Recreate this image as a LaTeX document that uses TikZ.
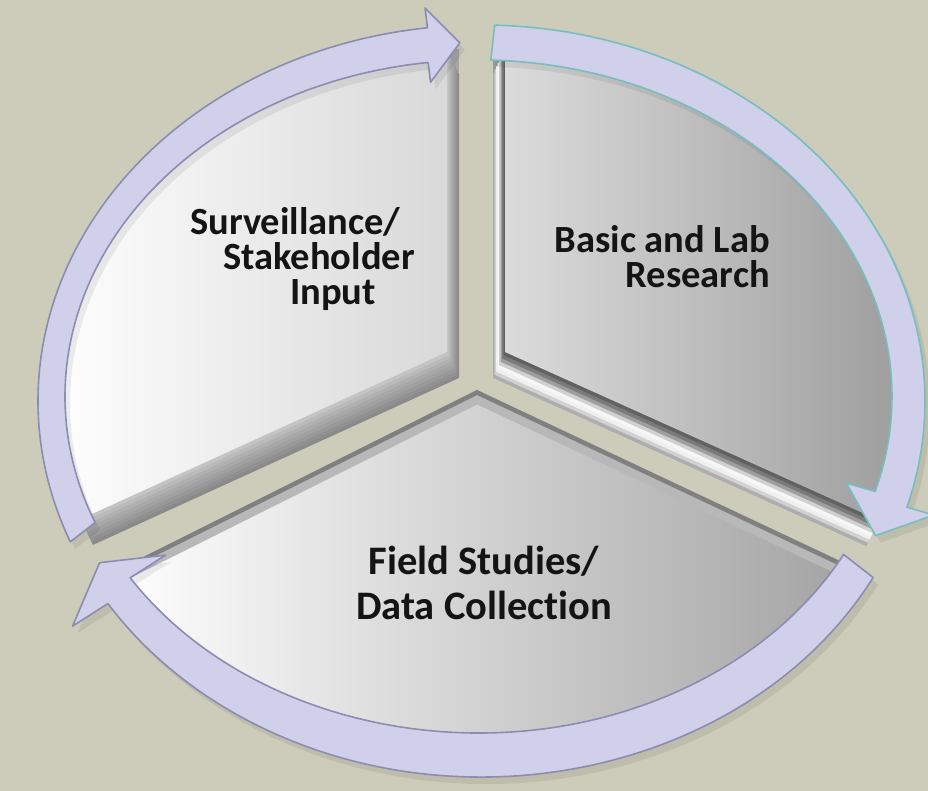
\documentclass[tikz,border=0pt]{standalone}
\usepackage{fontspec}
\setmainfont{Carlito}[Ligatures={NoCommon}]
\usetikzlibrary{calc}
\definecolor{bg}{RGB}{205,204,186}
\definecolor{lav}{RGB}{208,208,234}
\definecolor{lavedge}{RGB}{140,140,178}
\definecolor{tealedge}{RGB}{120,190,190}
\definecolor{txt}{RGB}{20,20,20}

% arrows (band ellipses: outer c=(481.5,390) 443.5x376, inner c=(478.5,394.5) 413.5x336.5, mid c=(480,392.25) 428.5x356.25)
\newcommand\arrowL[1]{\path[#1]
 ([shift={(481.5,390)}]202:443.5pt and 376pt)
 arc[start angle=202,end angle=97,x radius=443.5pt,y radius=376pt]
 -- ([shift={(481.5,390)}]97:463.5pt and 396pt)
 -- ([shift={(480,392.25)}]92.7:428.5pt and 356.25pt)
 -- ([shift={(478.5,394.5)}]97:393.5pt and 316.5pt)
 -- ([shift={(478.5,394.5)}]97:413.5pt and 336.5pt)
 arc[start angle=97,end angle=202,x radius=413.5pt,y radius=336.5pt]
 -- cycle;}
\newcommand\arrowR[1]{\path[#1]
 ([shift={(481.5,390)}]88.3:443.5pt and 376pt)
 arc[start angle=88.3,end angle=-16.4,x radius=443.5pt,y radius=376pt]
 -- ([shift={(481.5,390)}]-16.4:471.5pt and 404pt)
 -- ([shift={(480,392.25)}]-22.6:428.5pt and 356.25pt)
 -- ([shift={(478.5,394.5)}]-16.4:383.5pt and 306.5pt)
 -- ([shift={(478.5,394.5)}]-16.4:413.5pt and 336.5pt)
 arc[start angle=-16.4,end angle=88.3,x radius=413.5pt,y radius=336.5pt]
 -- cycle;}
\newcommand\arrowB[1]{\path[#1]
 ([shift={(481.5,390)}]-28:443.5pt and 376pt)
 arc[start angle=-28,end angle=-147.4,x radius=443.5pt,y radius=376pt]
 -- ([shift={(481.5,390)}]-147.4:485.5pt and 418pt)
 -- ([shift={(480,392.25)}]-152.6:428.5pt and 356.25pt)
 -- ([shift={(478.5,394.5)}]-147.4:371.5pt and 294.5pt)
 -- ([shift={(478.5,394.5)}]-147.4:413.5pt and 336.5pt)
 arc[start angle=-147.4,end angle=-28,x radius=413.5pt,y radius=336.5pt]
 -- cycle;}
% sectors (outer ellipse c=(480,393) 425x352)
\newcommand\sectL[1]{\path[#1] (447,439) -- ([shift={(480,393)}]94.45:425pt and 352pt)
 arc[start angle=94.45,end angle=200.1,x radius=425pt,y radius=352pt] -- cycle;}
\newcommand\sectR[1]{\path[#1] (505,439) -- ([shift={(480,393)}]-20.3:425pt and 352pt)
 arc[start angle=-20.3,end angle=86.6,x radius=425pt,y radius=352pt] -- cycle;}
\newcommand\sectB[1]{\path[#1] (477,401) -- ([shift={(480,393)}]209.8:425pt and 352pt)
 arc[start angle=209.8,end angle=331.3,x radius=425pt,y radius=352pt] -- cycle;}

\tikzset{
  band/.style={fill=lav, draw=lavedge, line width=1.6pt, line join=round},
  bandshadow/.style={fill=black, opacity=0.07},
  lbl/.style={font=\bfseries\fontsize{38.5}{35}\selectfont, text=txt, inner sep=0pt},
  lblb/.style={font=\bfseries\fontsize{40.5}{45}\selectfont, text=txt, inner sep=0pt}
}

\begin{document}
\begin{tikzpicture}[x=1pt,y=1pt]
\useasboundingbox (0,0) rectangle (928,791);
\fill[bg] (0,0) rectangle (928,791);

% ---- sector sides (slab thickness)
\fill[black!35] (447,420) rectangle (459,742);
\fill[black!40] (493,420) rectangle (505,742);
\foreach \i/\c in {8/46,7/43,6/40,5/37,4/34,3/31,2/27,1/23}{
  \sectL{fill=black!\c, shift={({12*\i/8},{-26*\i/8})}}}
\foreach \i/\c in {8/32,7/18,6/6,5/3,4/18,3/38,2/52,1/62}{
  \sectR{fill=black!\c, shift={({-12*\i/8},{-26*\i/8})}}}
\sectB{fill=black!35, shift={(0,-18)}}

% ---- sector faces
\sectL{left color=white, middle color=white, right color=black!15}
\sectR{left color=black!14, right color=black!40}
\sectB{left color=white, right color=black!36}
% bevel on the upper edges of the bottom sector
\begin{scope}
  \sectB{clip}
  \draw[black!28, line width=26pt, line join=miter]
    ([shift={(480,393)}]209.8:425pt and 352pt) -- (477,401) -- ([shift={(480,393)}]331.3:425pt and 352pt);
  \draw[black!50, line width=9pt, line join=miter]
    ([shift={(480,393)}]209.8:425pt and 352pt) -- (477,401) -- ([shift={(480,393)}]331.3:425pt and 352pt);
\end{scope}

% ---- arrows
\arrowL{bandshadow, shift={(5,-7)}}
\arrowR{bandshadow, shift={(5,-7)}}
\arrowB{bandshadow, shift={(5,-7)}}
\arrowL{band}
\arrowB{band}
\arrowR{band, draw=tealedge}

% ---- labels (base anchor = baseline of the last line)
\node[lbl, align=left, anchor=base west] (surv) at (190,486)
  {Surveillance/\\\hspace*{33pt}Stakeholder\\\hspace*{100pt}Input};
\node[lbl, align=right, anchor=base east] (basic) at (770,503)
  {Basic and Lab\\Research};
\node[lblb, align=center, anchor=base] (field) at (484,171)
  {Field Studies/\\Data Collection};
\end{tikzpicture}
\end{document}
